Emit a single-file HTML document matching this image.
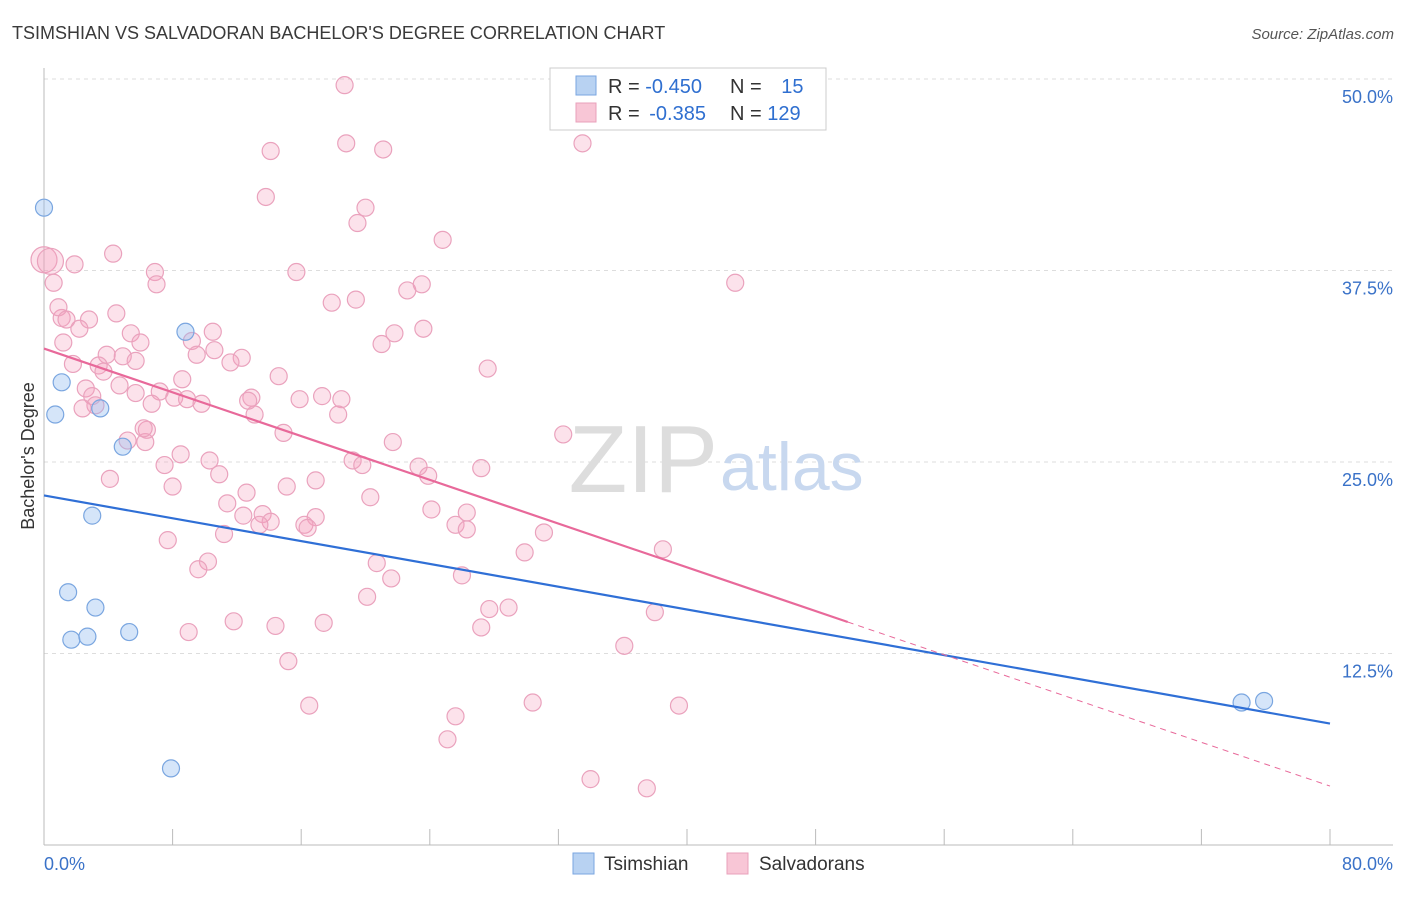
<!DOCTYPE html>
<html><head><meta charset="utf-8"><style>
body{margin:0;background:#fff;font-family:"Liberation Sans",sans-serif}
svg text{font-family:"Liberation Sans",sans-serif}
</style></head><body>
<svg id="c" width="1406" height="892" viewBox="0 0 1406 892">
<text x="12" y="39" font-size="18" fill="#3a3a3a">TSIMSHIAN VS SALVADORAN BACHELOR'S DEGREE CORRELATION CHART</text>
<text x="1394" y="39" font-size="15" fill="#555" font-style="italic" text-anchor="end">Source: ZipAtlas.com</text>
<text x="34" y="456" font-size="18" fill="#333" text-anchor="middle" transform="rotate(-90 34 456)">Bachelor's Degree</text>
<g id="grid"></g>
<text x="718" y="492" font-size="96" fill="#ddd" text-anchor="end" font-family="Liberation Serif">ZIP</text>
<text x="720" y="490" font-size="68" fill="#c8d8ef">atlas</text>
<g id="marks"></g>
<g id="lines"></g>
<g>
<rect x="550" y="68" width="276" height="62" fill="#fff" stroke="#ccc"/>
<rect x="576" y="76" width="20" height="19" fill="#b8d2f2" stroke="#7aa6e0"/>
<text x="608" y="93" font-size="20" fill="#333">R = <tspan fill="#2f6fd0">-0.450</tspan></text>
<text x="730" y="93" font-size="20" fill="#333">N = <tspan fill="#2f6fd0" dx="14">15</tspan></text>
<rect x="576" y="103" width="20" height="19" fill="#f8c6d6" stroke="#e9a0bb"/>
<text x="608" y="120" font-size="20" fill="#333">R = <tspan fill="#2f6fd0" dx="4">-0.385</tspan></text>
<text x="730" y="120" font-size="20" fill="#333">N = <tspan fill="#2f6fd0">129</tspan></text>
</g>
<g>
<rect x="573" y="853" width="21" height="21" fill="#b8d2f2" stroke="#7aa6e0"/>
<text x="604" y="870" font-size="19" fill="#333">Tsimshian</text>
<rect x="727" y="853" width="21" height="21" fill="#f8c6d6" stroke="#e9a0bb"/>
<text x="759" y="870" font-size="19" fill="#333">Salvadorans</text>
</g>
</svg>
<script>
const yTicks=[12.5,25,37.5,50];
const yTickLabels=["12.5%","25.0%","37.5%","50.0%"];
const xTickLabels=["0.0%","80.0%"];
const tsimX=[0.0,1.1,0.7,3.5,8.8,4.9,3.0,1.5,3.2,1.7,2.7,5.3,7.9,74.5,75.9];
const tsimY=[41.6,30.2,28.1,28.5,33.5,26.0,21.5,16.5,15.5,13.4,13.6,13.9,5.0,9.3,9.4];
const salvX=[18.7,14.1,18.8,21.1,33.5,13.8,20.0,19.5,24.8,4.3,1.9,6.9,15.7,7.0,22.6,23.5,43.0,17.9,19.4,4.5,1.1,2.8,2.2,5.4,10.5,1.2,6.0,21.8,23.6,21.0,9.2,3.9,10.6,4.9,5.7,9.5,12.3,11.6,1.8,3.4,3.7,14.6,27.6,8.6,4.7,2.6,7.2,5.7,3.0,8.1,8.9,12.9,15.9,17.3,18.5,3.2,2.4,6.7,9.8,13.1,18.3,6.4,14.9,5.2,6.3,21.7,32.3,8.5,7.5,19.2,10.3,19.8,23.3,23.9,27.2,4.1,10.9,8.0,16.9,15.1,12.6,20.3,11.4,13.6,12.4,14.1,16.9,13.4,24.1,26.3,16.2,16.4,25.6,26.3,11.2,7.7,31.1,29.9,38.5,10.2,20.7,9.6,21.6,26.0,20.1,27.7,28.9,38.0,11.8,14.4,17.4,9.0,27.2,36.1,15.2,16.5,30.4,39.5,25.6,25.1,34.0,37.5,0.0,0.4,0.6,0.9,1.4,6.2,12.7];
const salvY=[49.6,45.3,45.8,45.4,45.8,42.3,41.6,40.6,39.5,38.6,37.9,37.4,37.4,36.6,36.2,36.6,36.7,35.4,35.6,34.7,34.4,34.3,33.7,33.4,33.5,32.8,32.8,33.4,33.7,32.7,32.9,32.0,32.3,31.9,31.6,32.0,31.8,31.5,31.4,31.3,30.9,30.6,31.1,30.4,30.0,29.8,29.6,29.5,29.3,29.2,29.1,29.2,29.1,29.3,29.1,28.7,28.5,28.8,28.8,28.1,28.1,27.1,26.9,26.4,26.3,26.3,26.8,25.5,24.8,25.1,25.1,24.8,24.7,24.1,24.6,23.9,24.2,23.4,23.8,23.4,23.0,22.7,22.3,21.6,21.5,21.1,21.4,20.9,21.9,21.7,20.9,20.7,20.9,20.6,20.3,19.9,20.4,19.1,19.3,18.5,18.4,18.0,17.4,17.6,16.2,15.4,15.5,15.2,14.6,14.3,14.5,13.9,14.2,13.0,12.0,9.1,9.3,9.1,8.4,6.9,4.3,3.7,38.2,38.1,36.7,35.1,34.3,27.2,29.0];
const NS="http://www.w3.org/2000/svg";
const X=v=>44+v/80*1286, Y=v=>845-v/12.5*191.5;
function mk(t,a,p){const e=document.createElementNS(NS,t);for(const k in a)e.setAttribute(k,a[k]);p.appendChild(e);return e;}
const g=document.getElementById('grid');
yTicks.forEach((t,i)=>{
 const l=mk('line',{x1:44,x2:1393,y1:Y(t),y2:Y(t),stroke:'#ddd','stroke-dasharray':'4 4'},g);
 
 
 const tx=mk('text',{x:1393,y:Y(t)+24,'font-size':18,fill:'#3a72c8','text-anchor':'end'},g);
 tx.textContent=yTickLabels[i];
 
 
});
const ax=mk('line',{x1:44,x2:44,y1:68,y2:845,stroke:'#bbb'},g);


const bx=mk('line',{x1:44,x2:1393,y1:845,y2:845,stroke:'#bbb'},g);


for(let v=0;v<=80;v+=8){const t=mk('line',{x1:X(v),x2:X(v),y1:829,y2:845,stroke:'#bbb'},g);
 
 }
[[0,'start',44],[80,'end',1393]].forEach((d,i)=>{const t=mk('text',{x:d[2],y:870,'font-size':18,fill:'#3a72c8','text-anchor':d[1]},g);t.textContent=xTickLabels[i];
 
 });
const m=document.getElementById('marks');
salvX.forEach((x,i)=>{const c=mk('circle',{cx:X(x),cy:Y(salvY[i]),r:(x<0.5&&salvY[i]>38)?13:8.5,fill:'rgba(245,160,190,0.3)',stroke:'#eaa2bd','stroke-width':1.2},m);
 
 });
tsimX.forEach((x,i)=>{const c=mk('circle',{cx:X(x),cy:Y(tsimY[i]),r:8.5,fill:'rgba(150,190,240,0.4)',stroke:'#7aa6e0','stroke-width':1.2},m);
 
 });
function fit(xs,ys){const n=xs.length;let sx=0,sy=0,sxx=0,sxy=0;for(let i=0;i<n;i++){sx+=xs[i];sy+=ys[i];sxx+=xs[i]*xs[i];sxy+=xs[i]*ys[i];}const b=(n*sxy-sx*sy)/(n*sxx-sx*sx);return[(sy-b*sx)/n,b];}
const L=document.getElementById('lines');
const [a1,b1]=fit(tsimX,tsimY);
let l1=mk('line',{x1:X(0),y1:Y(a1),x2:X(80),y2:Y(a1+b1*80),stroke:'#2f6fd6','stroke-width':2.2},L);


const [a2,b2]=fit(salvX,salvY);
const xm=Math.max(...salvX)+7;
let l2=mk('line',{x1:X(0),y1:Y(a2),x2:X(xm),y2:Y(a2+b2*xm),stroke:'#e8699a','stroke-width':2.2},L);


let l3=mk('line',{x1:X(xm),y1:Y(a2+b2*xm),x2:X(80),y2:Y(a2+b2*80),stroke:'#e8699a','stroke-width':1,'stroke-dasharray':'6 5'},L);


</script>
</body></html>
